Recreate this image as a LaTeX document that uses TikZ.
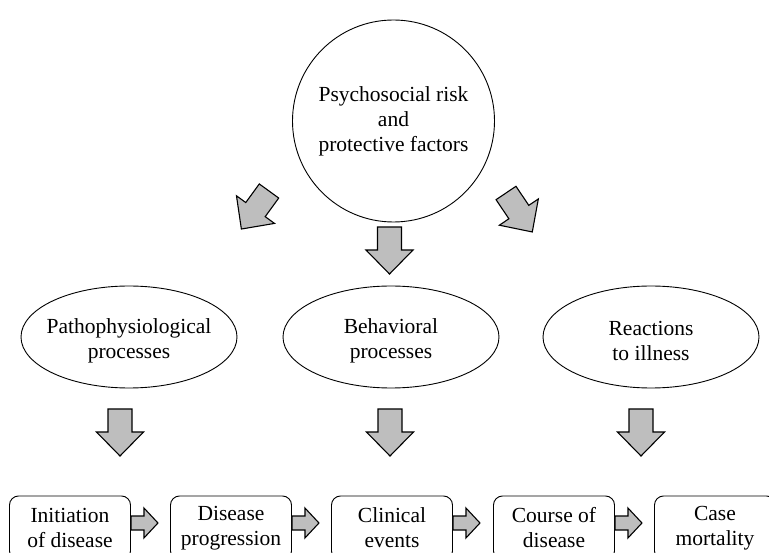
\documentclass[tikz,border=0pt]{standalone}
\usepackage{fontspec}
\setmainfont{Liberation Serif}
\usetikzlibrary{shapes.geometric,calc}
\definecolor{arrowgray}{RGB}{190,190,190}
\tikzset{
  labeltext/.style={font=\fontsize{21.5}{25}\selectfont, align=center},
  factor/.style={circle, draw, line width=0.9pt, minimum size=202pt, inner sep=0pt, labeltext},
  process/.style={ellipse, draw, line width=0.9pt, minimum width=216pt, minimum height=102pt, inner sep=0pt},
  outcome/.style={draw, rounded corners=9pt, line width=0.9pt, minimum width=121pt, minimum height=64pt, inner sep=0pt, labeltext},
  blockshape/.style={draw, line width=1.1pt, fill=arrowgray, line join=miter},
  pics/downarrow/.style={code={
    \draw[blockshape] (-12,0) -- (12,0) -- (12,23) -- (23.5,23) -- (0,47)
      -- (-23.5,23) -- (-12,23) -- cycle;}},
  pics/rightarrow/.style={code={
    \draw[blockshape] (0,-7) -- (13,-7) -- (13,-15) -- (27,0) -- (13,15)
      -- (13,7) -- (0,7) -- cycle;}},
}
\begin{document}
\begin{tikzpicture}[x=1pt,y=-1pt]
  \useasboundingbox (0,0) rectangle (769,553);
  \clip (0,0) rectangle (769,553);

  % source of the influences
  \node[factor] (psy) at (393.5,121) {Psychosocial risk\\and\\protective factors};

  % intermediate pathways, captions set slightly below the centres
  \node[process] (patho) at (129,337) {};
  \node[process] (behav) at (391,337) {};
  \node[process] (react) at (651,337) {};
  \node[labeltext] (pathotext) at ($(patho.center)+(0,4)$) {Pathophysiological\\processes};
  \node[labeltext] (behavtext) at ($(behav.center)+(0,4)$) {Behavioral\\processes};
  \node[labeltext] (reacttext) at ($(react.center)+(0,4)$) {Reactions\\to illness};

  % disease stages
  \node[outcome] (init) at (70,528)  {Initiation\\of disease};
  \node[outcome] (prog) at (231,528) {Disease\\progression};
  \node[outcome] (clin) at (392,528) {Clinical\\events};
  \node[outcome] (cour) at (554,528) {Course of\\disease};
  \node[outcome] (mort) at (715,528) {Case\\mortality};

  % block arrows from the factors to the pathways
  \pic[rotate=-36] at (269,191) {downarrow};
  \pic at (389.5,227) {downarrow};
  \pic[rotate=34] at (506,193) {downarrow};

  % block arrows from the pathways to the stages
  \pic at (120,409) {downarrow};
  \pic at (390,409) {downarrow};
  \pic at (641,409) {downarrow};

  % block arrows along the course of disease
  \pic at ($(init.east)+(0,-5)$) {rightarrow};
  \pic at ($(prog.east)+(0,-5)$) {rightarrow};
  \pic at ($(clin.east)+(0,-5)$) {rightarrow};
  \pic at ($(cour.east)+(0,-5)$) {rightarrow};
\end{tikzpicture}
\end{document}
